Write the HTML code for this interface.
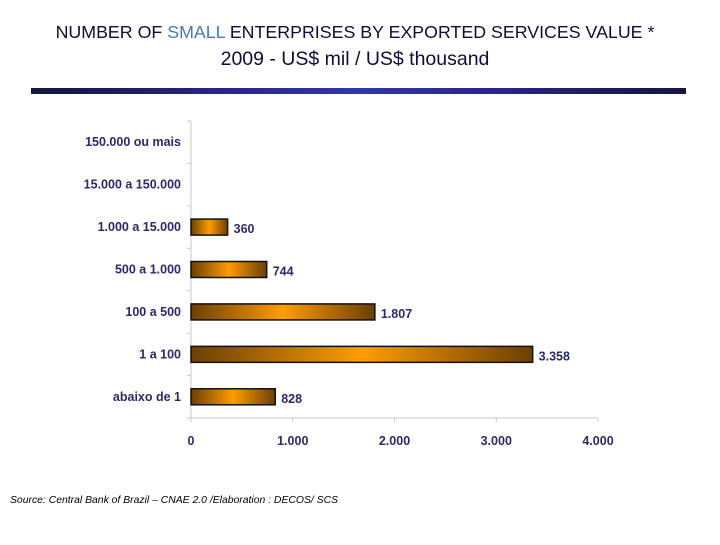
<!DOCTYPE html>
<html><head><meta charset="utf-8"><style>
body{margin:0;background:#fff;width:720px;height:540px;overflow:hidden;font-family:"Liberation Sans",sans-serif}
</style></head><body>
<svg width="720" height="540">
<defs>
<linearGradient id="bg" x1="0" x2="1" y1="0" y2="0">
<stop offset="0" stop-color="#6b3f06"/><stop offset="0.5" stop-color="#ff9c00"/><stop offset="1" stop-color="#6b3f06"/>
</linearGradient>
<linearGradient id="lg" x1="0" x2="1">
<stop offset="0" stop-color="#151540"/><stop offset="0.5" stop-color="#3434b0"/><stop offset="1" stop-color="#151540"/>
</linearGradient>
</defs>
<text x="355" y="38" text-anchor="middle" font-size="17.8" fill="#0d0d3a">NUMBER OF <tspan fill="#4a78b0">SMALL</tspan> ENTERPRISES BY EXPORTED SERVICES VALUE *</text>
<text x="355" y="65" text-anchor="middle" font-size="19.5" fill="#0d0d3a">2009 - US$ mil / US$ thousand</text>
<rect x="31" y="88" width="655" height="6" fill="url(#lg)"/>
<g id="plot"></g>
<text x="10" y="503" font-size="10.4" font-style="italic" fill="#000">Source: Central Bank of Brazil – CNAE 2.0 /Elaboration : DECOS/ SCS</text>
</svg>
<script>
const categories=["150.000 ou mais","15.000 a 150.000","1.000 a 15.000","500 a 1.000","100 a 500","1 a 100","abaixo de 1"];
const values=[null,null,360,744,1807,3358,828];
const valueLabels=["","","360","744","1.807","3.358","828"];
const ticks=[0,1000,2000,3000,4000];
const tickLabels=["0","1.000","2.000","3.000","4.000"];
const NS="http://www.w3.org/2000/svg";
const g=document.getElementById('plot');
const x0=191,x1=598,yTop=121,yBot=418;
const xs=v=>x0+(v/4000)*(x1-x0);
const band=(yBot-yTop)/categories.length;
const yc=i=>yTop+band*(i+0.5);
function el(t,a){const e=document.createElementNS(NS,t);for(const k in a)e.setAttribute(k,a[k]);g.appendChild(e);return e;}
let ax=el('line',{x1:x0,x2:x0,y1:yTop,y2:yBot,stroke:'#c8c8c8'});


let bx=el('line',{x1:x0,x2:x1,y1:yBot,y2:yBot,stroke:'#c8c8c8'});


for(let i=0;i<=categories.length;i++){el('line',{x1:x0-4,x2:x0,y1:yTop+band*i,y2:yTop+band*i,stroke:'#c8c8c8'});}
ticks.forEach((t,i)=>{
 el('line',{x1:xs(t),x2:xs(t),y1:yBot,y2:yBot+4,stroke:'#c8c8c8'});
 const tx=el('text',{x:xs(t),y:445,'text-anchor':'middle','font-size':12.5,'font-weight':'bold',fill:'#2a2a6a'});
 tx.textContent=tickLabels[i];
 
 
});
categories.forEach((c,i)=>{
 const t=el('text',{x:181,y:yc(i)+4,'text-anchor':'end','font-size':12.5,'font-weight':'bold',fill:'#2a2a6a'});
 t.textContent=c;
 
 
 if(values[i]!=null){
  const r=el('rect',{x:x0,y:yc(i)-8,width:xs(values[i])-x0,height:16,fill:'url(#bg)',stroke:'#111','stroke-width':1.5});
  
  
  const v=el('text',{x:xs(values[i])+6,y:yc(i)+6,'font-size':12.5,'font-weight':'bold',fill:'#2a2a6a'});
  v.textContent=valueLabels[i];
  
  
 }
});
</script>
</body></html>
